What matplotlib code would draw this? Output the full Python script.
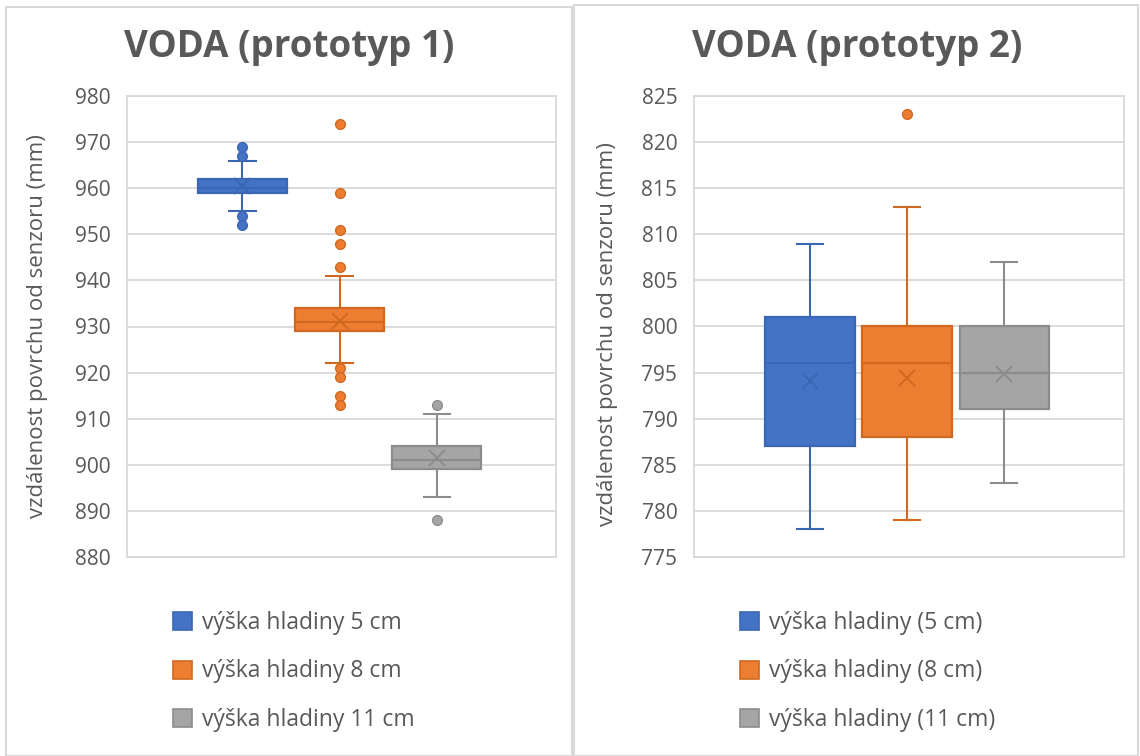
import matplotlib.pyplot as plt
from matplotlib.patches import Patch, Rectangle

plt.rcParams['font.family'] = ['Open Sans', 'DejaVu Sans']

# box statistics (mm)
labels_1 = ['výška hladiny 5 cm', 'výška hladiny 8 cm', 'výška hladiny 11 cm']
q1_1 = [959, 929, 899]
med_1 = [960, 931, 901]
q3_1 = [962, 934, 904]
lo_1 = [955, 922, 893]
hi_1 = [966, 941, 911]
mean_1 = [960.4, 931.3, 901.5]
fliers_1 = [[967, 969, 954, 952],
            [974, 959, 951, 948, 943, 921, 919, 915, 913],
            [913, 888]]

labels_2 = ['výška hladiny (5 cm)', 'výška hladiny (8 cm)', 'výška hladiny (11 cm)']
q1_2 = [787, 788, 791]
med_2 = [796, 796, 795]
q3_2 = [801, 800, 800]
lo_2 = [778, 779, 783]
hi_2 = [809, 813, 807]
mean_2 = [794.1, 794.4, 794.9]
fliers_2 = [[], [823], []]

faces = ['#4472C4', '#ED7D31', '#A5A5A5']
edges = ['#3A66B5', '#D0691F', '#8C8C8C']
txt = '#595959'
grid = '#D9D9D9'

fig = plt.figure(figsize=(11.4, 7.56), dpi=100)
W, H = 1140, 756


def px_axes(x0, y0, x1, y1):
    return fig.add_axes([x0 / W, 1 - y1 / H, (x1 - x0) / W, (y1 - y0) / H])


def draw(ax, q1, med, q3, lo, hi, mean, fliers, labels, ylim, step, title, tx):
    pos = [1, 2, 3]
    for i in range(3):
        st = [dict(q1=q1[i], med=med[i], q3=q3[i], whislo=lo[i], whishi=hi[i],
                   mean=mean[i], fliers=fliers[i])]
        ax.bxp(st, positions=[pos[i]], widths=0.92, capwidths=0.27,
               patch_artist=True, showmeans=True,
               boxprops=dict(facecolor=faces[i], edgecolor=edges[i], linewidth=1.6),
               medianprops=dict(color=edges[i], linewidth=1.6),
               whiskerprops=dict(color=edges[i], linewidth=1.5),
               capprops=dict(color=edges[i], linewidth=1.5),
               meanprops=dict(marker='x', markeredgecolor=edges[i], markersize=12,
                              markeredgewidth=1.4),
               flierprops=dict(marker='o', markerfacecolor=faces[i],
                               markeredgecolor=edges[i], markersize=7))
    ax.set_xlim(-0.19, 4.23)
    ax.set_ylim(*ylim)
    ax.set_yticks(range(ylim[0], ylim[1] + 1, step))
    ax.set_xticks([])
    ax.yaxis.grid(True, color=grid, linewidth=1.3)
    ax.set_axisbelow(True)
    for s in ax.spines.values():
        s.set_color(grid)
        s.set_linewidth(1.3)
    ax.tick_params(axis='y', length=0, pad=12, labelsize=15, labelcolor=txt)
    handles = [Patch(facecolor=faces[i], edgecolor=edges[i], linewidth=1.2) for i in range(3)]
    ax.legend(handles, labels, loc='upper left', bbox_to_anchor=(0.108, -0.118),
              frameon=False, fontsize=16.5, labelcolor=txt, handlelength=0.83,
              handleheight=0.83, handletextpad=0.4, labelspacing=1.05,
              borderpad=0, borderaxespad=0)
    fig.text(tx, 1 - 47 / H, title, ha='center', va='center', fontsize=26.5,
             fontweight='bold', color=txt)


ax1 = px_axes(127, 96, 556, 557)
draw(ax1, q1_1, med_1, q3_1, lo_1, hi_1, mean_1, fliers_1, labels_1,
     (880, 980), 10, 'VODA (prototyp 1)', 289 / W)
fig.text(38 / W, 1 - 326 / H, 'vzdálenost povrchu od senzoru (mm)', rotation=90,
         ha='center', va='center', fontsize=16, color=txt)

ax2 = px_axes(694, 96, 1124, 557)
draw(ax2, q1_2, med_2, q3_2, lo_2, hi_2, mean_2, fliers_2, labels_2,
     (775, 825), 5, 'VODA (prototyp 2)', 857 / W)
fig.text(607 / W, 1 - 334 / H, 'vzdálenost povrchu od senzoru (mm)', rotation=90,
         ha='center', va='center', fontsize=16, color=txt)

# panel frames
for x0, y0, x1 in [(6, 7, 572), (574, 5, 1138)]:
    fig.add_artist(Rectangle((x0 / W, 0), (x1 - x0) / W, 1 - y0 / H,
                             transform=fig.transFigure, fill=False,
                             edgecolor=grid, linewidth=1.5))

fig.savefig('out.png', dpi=100)
